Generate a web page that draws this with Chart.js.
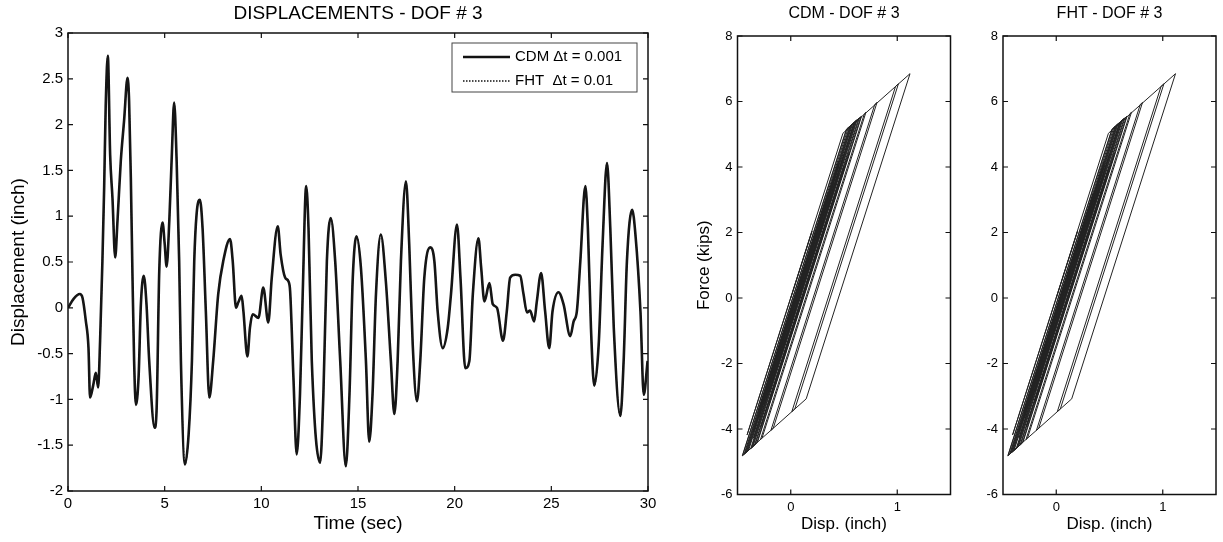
<!DOCTYPE html>
<html>
<head>
<meta charset="utf-8">
<script src="https://cdn.jsdelivr.net/npm/chart.js@4.4.1/dist/chart.umd.min.js"></script>
<style>
  body { margin: 0; background: #fff; }
  .wrap { position: relative; width: 1223px; height: 542px; }
  canvas { position: absolute; left: 0; top: 0; }
</style>
</head>
<body>
<div class="wrap">
  <canvas id="dispChart" width="1223" height="542"></canvas>
  <canvas id="cdmChart" width="1223" height="542"></canvas>
  <canvas id="fhtChart" width="1223" height="542"></canvas>
</div>
<script>
// displacement time history, DOF #3
const timeSec = [
  0.00, 0.30, 0.61, 0.75, 0.92, 1.06, 1.14, 1.30, 1.44, 1.56, 1.66, 1.78, 1.87, 1.95, 2.06,
  2.18, 2.30, 2.44, 2.56, 2.73, 2.90, 3.08, 3.16, 3.25, 3.34, 3.42, 3.51, 3.65, 3.77, 3.92,
  4.06, 4.20, 4.48, 4.58, 4.72, 4.89, 5.00, 5.10, 5.24, 5.37, 5.49, 5.62, 5.75, 5.84, 6.05,
  6.24, 6.41, 6.53, 6.65, 6.82, 6.96, 7.13, 7.31, 7.51, 7.77, 8.03, 8.38, 8.52, 8.69, 8.81,
  8.98, 9.07, 9.28, 9.41, 9.55, 9.85, 10.10, 10.36, 10.54, 10.85, 11.00, 11.23, 11.40, 11.49, 11.66,
  11.83, 12.00, 12.14, 12.32, 12.44, 12.61, 13.04, 13.21, 13.39, 13.59, 13.82, 14.08, 14.37, 14.56, 14.73,
  14.92, 15.15, 15.41, 15.58, 15.75, 15.93, 16.18, 16.44, 16.70, 16.88, 17.05, 17.22, 17.48, 17.65, 17.83,
  18.05, 18.22, 18.43, 18.74, 18.95, 19.12, 19.38, 19.64, 19.81, 20.12, 20.30, 20.55, 20.76, 20.94, 21.23,
  21.37, 21.54, 21.80, 21.97, 22.19, 22.50, 22.70, 22.87, 23.13, 23.39, 23.56, 23.74, 23.90, 24.11, 24.25,
  24.47, 24.68, 24.89, 25.06, 25.37, 25.63, 25.98, 26.15, 26.32, 26.50, 26.76, 26.89, 27.05, 27.22, 27.45,
  27.65, 27.88, 28.05, 28.23, 28.57, 28.74, 28.91, 29.18, 29.35, 29.61, 29.78, 29.98
];
const dispCdm = [
  0.00, 0.10, 0.15, 0.11, -0.14, -0.44, -0.98, -0.85, -0.71, -0.87, -0.36, 0.51, 1.31, 2.20, 2.75,
  1.67, 1.20, 0.55, 0.95, 1.60, 2.04, 2.51, 2.26, 1.42, 0.29, -0.58, -1.06, -0.76, 0.04, 0.35,
  0.04, -0.58, -1.31, -1.13, 0.40, 0.93, 0.70, 0.45, 0.95, 1.67, 2.24, 1.60, 0.51, -0.58, -1.71,
  -1.38, -0.58, 0.51, 1.02, 1.18, 0.87, -0.04, -0.98, -0.58, 0.15, 0.51, 0.75, 0.51, 0.00, 0.06,
  0.13, -0.03, -0.53, -0.22, -0.07, -0.11, 0.22, -0.16, 0.33, 0.89, 0.58, 0.33, 0.29, 0.18, -0.76,
  -1.60, -0.94, 0.15, 1.33, 0.87, -0.58, -1.69, -0.94, 0.51, 0.98, 0.51, -0.58, -1.73, -0.94, 0.33,
  0.78, 0.44, -0.58, -1.46, -0.95, 0.15, 0.80, 0.29, -0.58, -1.16, -0.58, 0.51, 1.38, 0.69, -0.40,
  -1.02, -0.58, 0.33, 0.66, 0.51, -0.04, -0.44, -0.22, 0.15, 0.91, 0.33, -0.66, -0.58, 0.15, 0.76,
  0.44, 0.07, 0.27, 0.04, 0.00, -0.36, -0.03, 0.33, 0.36, 0.35, 0.15, -0.05, -0.03, -0.15, 0.07,
  0.38, -0.04, -0.44, -0.04, 0.17, 0.04, -0.31, -0.15, -0.04, 0.51, 1.33, 0.87, -0.22, -0.85, -0.40,
  0.69, 1.58, 0.87, -0.22, -1.18, -0.58, 0.51, 1.07, 0.80, -0.04, -0.95, -0.58
];
// the FHT trace lies on top of the CDM trace in the reference
const dispFht = dispCdm;

const timeTicks = [0, 5, 10, 15, 20, 25, 30];
const dispTicks = [-2, -1.5, -1, -0.5, 0, 0.5, 1, 1.5, 2, 2.5, 3];

// force - displacement loops (turning points)
const hystDisp = [
  0, 0.2, -0.41, 0.49, 1.12, 0.145, 0.01, 0.984, 1.011, 0.038, -0.186, 0.789, 0.81, -0.165,
  -0.284, 0.692, 0.706, -0.27, -0.455, 0.522, 0.553, -0.3, 0.45, -0.424, -0.452, 0.526, 0.595,
  -0.25, 0.5, -0.35, 0.595, 0.637, -0.34, -0.368, 0.45, -0.2, 0.609, 0.665, -0.312, -0.396, 0.4,
  -0.3, 0.581, 0.623, -0.354, -0.438, 0.54, 0.574, -0.25, 0.45, -0.403, -0.417, 0.56, 0.644,
  -0.28, 0.5, -0.333, -0.375, 0.602, 0.658, -0.2, 0.55, -0.319, -0.41, 0.45, -0.35, 0.567, 0.616,
  -0.361, -0.431, 0.35, -0.15, 0.3, -0.3, 0.15, -0.05
];
const hystForce = [
  0, 2.04, -4.18, 5.03, 6.85, -3.08, -3.47, 6.46, 6.54, -3.39, -4.04, 5.91, 5.97, -3.98,
  -4.32, 5.63, 5.67, -4.28, -4.82, 5.15, 5.24, -3.47, 4.18, -4.73, -4.81, 5.16, 5.36,
  -3.26, 4.39, -4.28, 5.36, 5.48, -4.49, -4.57, 3.77, -2.86, 5.40, 5.55, -4.40, -4.65, 3.47,
  -3.67, 5.32, 5.44, -4.53, -4.77, 5.20, 5.30, -3.11, 4.03, -4.67, -4.71, 5.26, 5.49,
  -3.93, 4.03, -4.47, -4.59, 5.38, 5.53, -3.21, 4.44, -4.43, -4.69, 4.08, -4.08, 5.28, 5.42,
  -4.55, -4.75, 3.21, -1.89, 2.70, -3.42, 1.17, -0.87
];
const hystDispTicks = [0, 1];
const forceTicks = [-6, -4, -2, 0, 2, 4, 6, 8];

Chart.defaults.font.family = '"Liberation Sans", Arial, sans-serif';
Chart.defaults.color = "#000";

// box round the axes with inward ticks, MATLAB style
const matlabFrame = {
  id: "matlabFrame",
  afterDatasetsDraw(chart) {
    const { ctx, chartArea: a, scales } = chart;
    ctx.save();
    ctx.strokeStyle = "#111";
    ctx.lineWidth = 1.5;
    ctx.strokeRect(a.left, a.top, a.right - a.left, a.bottom - a.top);
    ctx.lineWidth = 1.2;
    ctx.beginPath();
    scales.x.ticks.forEach((t) => {
      const px = scales.x.getPixelForValue(t.value);
      ctx.moveTo(px, a.bottom);
      ctx.lineTo(px, a.bottom - 5);
      ctx.moveTo(px, a.top);
      ctx.lineTo(px, a.top + 5);
    });
    scales.y.ticks.forEach((t) => {
      const py = scales.y.getPixelForValue(t.value);
      ctx.moveTo(a.left, py);
      ctx.lineTo(a.left + 5, py);
      ctx.moveTo(a.right, py);
      ctx.lineTo(a.right - 5, py);
    });
    ctx.stroke();
    ctx.restore();
  },
};

const dispLegend = {
  id: "dispLegend",
  afterDraw(chart) {
    const { ctx, chartArea: a } = chart;
    const bx = a.right - 196, by = a.top + 10, bw = 185, bh = 49;
    ctx.save();
    ctx.fillStyle = "#fff";
    ctx.fillRect(bx, by, bw, bh);
    ctx.strokeStyle = "#444";
    ctx.lineWidth = 1;
    ctx.strokeRect(bx, by, bw, bh);
    ctx.font = '15px "Liberation Sans", Arial, sans-serif';
    ctx.textBaseline = "middle";
    ctx.fillStyle = "#000";
    chart.data.datasets.forEach((ds, i) => {
      const y = by + 14 + i * 24;
      ctx.strokeStyle = "#111";
      ctx.lineWidth = ds.legendWidth;
      ctx.setLineDash(ds.borderDash || []);
      ctx.beginPath();
      ctx.moveTo(bx + 11, y);
      ctx.lineTo(bx + 58, y);
      ctx.stroke();
      ctx.setLineDash([]);
      ctx.fillText(ds.label, bx + 63, y);
    });
    ctx.restore();
  },
};

function fixTicks(values) {
  return (scale) => {
    scale.ticks = values.map((v) => ({ value: v }));
  };
}

/* ------------------------------------------------------------------ */
const ctx1 = document.getElementById("dispChart").getContext("2d");

const dispChart = new Chart(ctx1, {
  type: "line",
  data: {
    datasets: [
      {
        label: "CDM \u0394t = 0.001",
        data: timeSec.map((t, i) => ({ x: t, y: dispCdm[i] })),
        borderColor: "#151515",
        borderWidth: 2.6,
        legendWidth: 2.5,
        pointRadius: 0,
        cubicInterpolationMode: "monotone",
      },
      {
        label: "FHT  \u0394t = 0.01",
        data: timeSec.map((t, i) => ({ x: t, y: dispFht[i] })),
        borderColor: "#151515",
        borderWidth: 1.2,
        borderDash: [1.5, 1.5],
        legendWidth: 1.4,
        pointRadius: 0,
        cubicInterpolationMode: "monotone",
      },
    ],
  },
  options: {
    responsive: false,
    animation: false,
    layout: { padding: { left: 7, top: 0, right: 575, bottom: 7 } },
    plugins: {
      legend: { display: false },
      tooltip: { enabled: false },
      title: {
        display: true,
        fullSize: false,
        text: "DISPLACEMENTS - DOF # 3",
        font: { size: 19, weight: "normal" },
        color: "#000",
        padding: { top: 2, bottom: 8.2 },
      },
    },
    scales: {
      x: {
        type: "linear",
        min: 0,
        max: 30,
        afterBuildTicks: fixTicks(timeTicks),
        afterFit: (s) => { s.height = 44; },
        grid: { display: false, drawTicks: false },
        border: { display: false },
        ticks: { font: { size: 15 }, padding: 4, maxRotation: 0, autoSkip: false },
        title: { display: true, text: "Time (sec)", font: { size: 19 }, padding: 0 },
      },
      y: {
        min: -2,
        max: 3,
        afterBuildTicks: fixTicks(dispTicks),
        afterFit: (s) => { s.width = 61; },
        grid: { display: false, drawTicks: false },
        border: { display: false },
        ticks: { font: { size: 15 }, padding: 5, autoSkip: false, callback: (v) => String(v) },
        title: { display: true, text: "Displacement (inch)", font: { size: 19 }, padding: 0 },
      },
    },
  },
  plugins: [matlabFrame, dispLegend],
});

/* ------------------------------------------------------------------ */
function hystChart(id, titleText, left, showYTitle) {
  const ctx = document.getElementById(id).getContext("2d");
  const yWidth = showYTitle ? 43 : 30;
  return new Chart(ctx, {
    type: "scatter",
    data: {
      datasets: [
        {
          label: titleText,
          data: hystDisp.map((d, i) => ({ x: d, y: hystForce[i] })),
          showLine: true,
          borderColor: "#222",
          borderWidth: 1,
          pointRadius: 0,
          tension: 0,
        },
      ],
    },
    options: {
      responsive: false,
      animation: false,
      layout: {
        padding: { left: left - yWidth, top: 0, right: 1223 - left - 213, bottom: 7.5 },
      },
      plugins: {
        legend: { display: false },
        tooltip: { enabled: false },
        title: {
          display: true,
          fullSize: false,
          text: titleText,
          font: { size: 16, weight: "normal" },
          color: "#000",
          padding: { top: 3.9, bottom: 12.9 },
        },
      },
      scales: {
        x: {
          type: "linear",
          min: -0.5,
          max: 1.5,
          afterBuildTicks: fixTicks(hystDispTicks),
          afterFit: (s) => { s.height = 40; },
          grid: { display: false, drawTicks: false },
          border: { display: false },
          ticks: { font: { size: 13 }, padding: 5, maxRotation: 0 },
          title: { display: true, text: "Disp. (inch)", font: { size: 17 }, padding: 0 },
        },
        y: {
          min: -6,
          max: 8,
          afterBuildTicks: fixTicks(forceTicks),
          afterFit: (s) => { s.width = yWidth; },
          grid: { display: false, drawTicks: false },
          border: { display: false },
          ticks: { font: { size: 13 }, padding: 5 },
          title: { display: showYTitle, text: "Force (kips)", font: { size: 17 }, padding: 0 },
        },
      },
    },
    plugins: [matlabFrame],
  });
}

const cdmChart = hystChart("cdmChart", "CDM - DOF # 3", 737.5, true);
const fhtChart = hystChart("fhtChart", "FHT - DOF # 3", 1003, false);
</script>
</body>
</html>
